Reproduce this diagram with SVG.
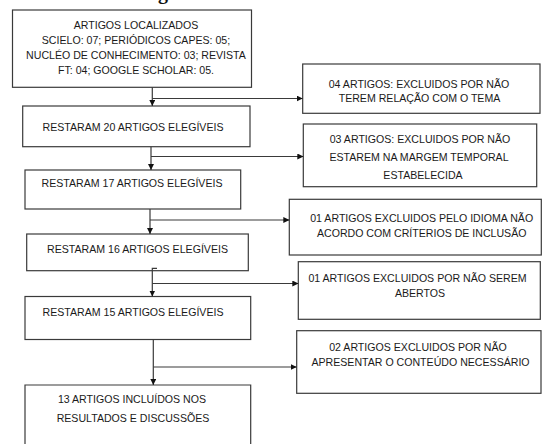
<svg xmlns="http://www.w3.org/2000/svg" width="542" height="444" viewBox="0 0 542 444">
<defs>
<style>
.box{fill:#fff;stroke:#3a3a3a;stroke-width:1.2}
.t{font-family:"Liberation Sans",Arial,sans-serif;font-size:10.6px;fill:#1a1a1a;text-anchor:middle}
.c{fill:none;stroke:#3a3a3a;stroke-width:1.2}
</style>
<marker id="ah" viewBox="0 0 8 8" refX="8" refY="4" markerWidth="6" markerHeight="6" markerUnits="userSpaceOnUse" orient="auto">
<path d="M0,0 L8,4 L0,8 z" fill="#111"/>
</marker>
</defs>
<rect width="542" height="444" fill="#fff"/>
<text x="163" y="-1" font-family="'Liberation Serif',serif" font-weight="bold" font-size="20" text-anchor="middle" fill="#111">g</text>

<g id="n1">
<rect class="box" x="12.5" y="10" width="239" height="77.3"/>
<text class="t" x="136" y="29">ARTIGOS LOCALIZADOS</text>
<text class="t" x="136" y="43.5">SCIELO: 07; PERIÓDICOS CAPES: 05;</text>
<text class="t" x="136" y="58.5">NUCLÉO DE CONHECIMENTO: 03; REVISTA</text>
<text class="t" x="136" y="73.5">FT: 04; GOOGLE SCHOLAR: 05.</text>
</g>
<g id="n2">
<rect class="box" x="22.7" y="106" width="227.3" height="40.7"/>
<text class="t" x="133" y="130.5">RESTARAM 20 ARTIGOS ELEGÍVEIS</text>
</g>
<g id="n3">
<rect class="box" x="25" y="170" width="215.7" height="39"/>
<text class="t" x="132" y="187">RESTARAM 17 ARTIGOS ELEGÍVEIS</text>
</g>
<g id="n4">
<rect class="box" x="26.7" y="234" width="221.6" height="36.7"/>
<text class="t" x="137.5" y="253">RESTARAM 16 ARTIGOS ELEGÍVEIS</text>
</g>
<g id="n5">
<rect class="box" x="25" y="296.5" width="225.7" height="43"/>
<text class="t" x="133" y="315.5">RESTARAM 15 ARTIGOS ELEGÍVEIS</text>
</g>
<g id="n6">
<path class="box" d="M25,446 V385 H250.7 V446"/>
<text class="t" x="132" y="403">13 ARTIGOS INCLUÍDOS NOS</text>
<text class="t" x="133" y="422">RESULTADOS E DISCUSSÕES</text>
</g>

<g id="e1">
<rect class="box" x="302.7" y="64" width="237.3" height="49.3"/>
<text class="t" x="419" y="88">04 ARTIGOS: EXCLUIDOS POR NÃO</text>
<text class="t" x="419.5" y="102">TEREM RELAÇÃO COM O TEMA</text>
</g>
<g id="e2">
<rect class="box" x="303.3" y="124" width="233.4" height="62.7"/>
<text class="t" x="420" y="143">03 ARTIGOS: EXCLUIDOS POR NÃO</text>
<text class="t" x="419" y="160.5">ESTAREM NA MARGEM TEMPORAL</text>
<text class="t" x="423" y="179">ESTABELECIDA</text>
</g>
<g id="e3">
<rect class="box" x="289.3" y="199.3" width="252" height="55.7"/>
<text class="t" x="421.7" y="222">01 ARTIGOS EXCLUIDOS PELO IDIOMA NÃO</text>
<text class="t" x="421.7" y="237">ACORDO COM CRÍTERIOS DE INCLUSÃO</text>
</g>
<g id="e4">
<rect class="box" x="298.3" y="261.7" width="242" height="57.6"/>
<text class="t" x="417.5" y="282">01 ARTIGOS EXCLUIDOS POR NÃO SEREM</text>
<text class="t" x="420" y="297">ABERTOS</text>
</g>
<g id="e5">
<rect class="box" x="296.7" y="330.7" width="244.3" height="62.6"/>
<text class="t" x="418" y="350.5">02 ARTIGOS EXCLUIDOS POR NÃO</text>
<text class="t" x="420.5" y="365.5">APRESENTAR O CONTEÚDO NECESSÁRIO</text>
</g>

<g id="connectors">
<path class="c" d="M152.3,87.3 V106" marker-end="url(#ah)"/>
<path class="c" d="M152.3,98.5 H302.7" marker-end="url(#ah)"/>
<path class="c" d="M151,146.7 V170" marker-end="url(#ah)"/>
<path class="c" d="M151,156.5 H303.3" marker-end="url(#ah)"/>
<path class="c" d="M150,209 V234" marker-end="url(#ah)"/>
<path class="c" d="M150,220 H289.3" marker-end="url(#ah)"/>
<path class="c" d="M157,268.3 H152.3 V296.5" marker-end="url(#ah)"/>
<path class="c" d="M152.3,283.5 H298.3" marker-end="url(#ah)"/>
<path class="c" d="M153.3,339.5 V385" marker-end="url(#ah)"/>
<path class="c" d="M153.3,367 H296.7" marker-end="url(#ah)"/>
</g>
</svg>
